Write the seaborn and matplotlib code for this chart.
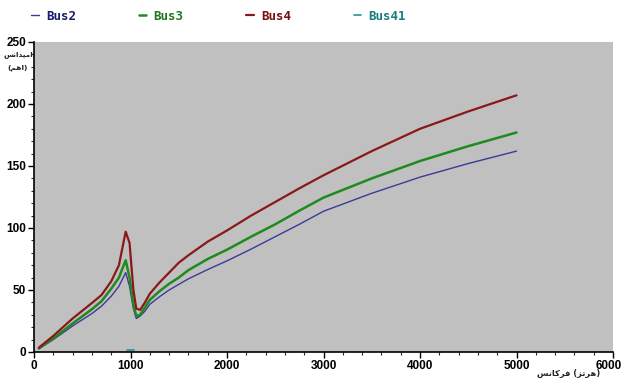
import matplotlib
matplotlib.use("Agg")
import matplotlib.pyplot as plt
import matplotlib.transforms as mtransforms
import seaborn as sns
import pandas as pd
from matplotlib.ticker import MultipleLocator

freq = [50, 200, 400, 600, 700, 800, 880, 950, 990, 1030, 1060, 1100, 1150, 1200,
        1300, 1400, 1500, 1600, 1800, 2000, 2250, 2500, 2750, 3000, 3500, 4000, 4500, 5000]
bus2 = [2.5, 10, 21, 31, 37, 45, 53, 64, 53, 35, 27, 29, 33, 38.5,
        44.5, 50, 54.5, 59, 66.5, 73.5, 83, 93, 103, 113.5, 128, 141, 152, 162]
bus3 = [3, 11, 23, 34.5, 41, 51, 60, 74, 60, 38, 29, 30, 36, 42,
        49, 55, 60, 66, 75, 82.5, 93, 103, 114, 124.5, 140, 154, 166, 177]
bus4 = [3.5, 13, 27, 39.5, 46, 57, 70, 97, 88, 50, 35, 34, 40, 47,
        56, 64, 72, 78, 89, 98, 110, 121, 132, 142.5, 162, 180, 194, 207]
bus41_freq = [960, 1000, 1040]
bus41 = [1.5, 1.5, 1.5]

names = ["Bus2", "Bus3", "Bus4", "Bus41"]
colors = {"Bus2": "#3a3a9a", "Bus3": "#1f8a1f", "Bus4": "#8b1818", "Bus41": "#2a9090"}
text_colors = {"Bus2": "#1a1a6e", "Bus3": "#1f7a1f", "Bus4": "#7a1010", "Bus41": "#1a7f7f"}
widths = {"Bus2": 1.0, "Bus3": 1.8, "Bus4": 1.6, "Bus41": 1.2}

sns.set_style("ticks")
plt.rcParams['font.family'] = ['Liberation Sans', 'DejaVu Sans']

fig = plt.figure(figsize=(6.22, 3.80), dpi=100)
ax = fig.add_axes([34/622, 1-352/380, (613-34)/622, (352-42)/380])
ax.set_facecolor("#c0c0c0")

df = pd.DataFrame({"f": freq * 3,
                   "v": bus2 + bus3 + bus4,
                   "s": ["Bus2"] * len(freq) + ["Bus3"] * len(freq) + ["Bus4"] * len(freq)})
df41 = pd.DataFrame({"f": bus41_freq, "v": bus41, "s": ["Bus41"] * len(bus41)})

for name in names:
    d = df41 if name == "Bus41" else df[df["s"] == name]
    sns.lineplot(data=d, x="f", y="v", ax=ax, color=colors[name], lw=widths[name],
                 label=name, sort=False, estimator=None)

ax.set_xlim(0, 6000)
ax.set_ylim(0, 250)
ax.xaxis.set_major_locator(MultipleLocator(1000))
ax.xaxis.set_minor_locator(MultipleLocator(200))
ax.yaxis.set_major_locator(MultipleLocator(50))
ax.yaxis.set_minor_locator(MultipleLocator(10))
ax.tick_params(axis='both', which='major', length=4, width=1, labelsize=8.5, pad=1.5, colors='black')
ax.tick_params(axis='both', which='minor', length=2.5, width=0.8)
ax.set_xlabel("")
ax.set_ylabel("")
fig.canvas.draw()
xt = ax.get_xticklabels()
for lab in xt + ax.get_yticklabels():
    lab.set_fontweight('bold')
for lab in xt:
    if lab.get_text() == "6000":
        lab.set_transform(lab.get_transform() +
                          mtransforms.ScaledTranslation(-4/100, 0, fig.dpi_scale_trans))
for s in ["top", "right"]:
    ax.spines[s].set_visible(False)
for s in ["left", "bottom"]:
    ax.spines[s].set_color("black")
    ax.spines[s].set_linewidth(1.2)

# Persian labels (presentation forms, visual order)
ylab1 = "\uFEB2\uFEE7\uFE8D\uFEAA\uFB59\uFEE3\uFE8D"
ylab2 = "(\uFEE2\uFEEB\uFE8D)"
xlab = "\uFEB2\uFEE7\uFE8E\uFB90\uFEAE\uFED3 (\uFEB0\uFE97\uFEAE\uFEEB)"
fig.text(18/622, 1-55/380, ylab1, ha='center', va='center', fontsize=5.2,
         fontweight='bold', family=['DejaVu Sans'])
fig.text(18/622, 1-68/380, ylab2, ha='center', va='center', fontsize=5.4,
         fontweight='bold', family=['DejaVu Sans'])
fig.text(569/622, 1-373/380, xlab, ha='center', va='center', fontsize=6,
         fontweight='bold', family=['DejaVu Sans'])

leg = ax.legend(loc='center left', bbox_to_anchor=(31/622, 1-16/380),
                bbox_transform=fig.transFigure, ncol=4, frameon=False,
                handlelength=0.6, handletextpad=0.6, columnspacing=5.0,
                borderpad=0, borderaxespad=0,
                prop={'family': 'DejaVu Sans Mono', 'weight': 'bold', 'size': 9})
for t in leg.get_texts():
    t.set_color(text_colors[t.get_text()])

fig.savefig("out.png", dpi=100, facecolor="white")
